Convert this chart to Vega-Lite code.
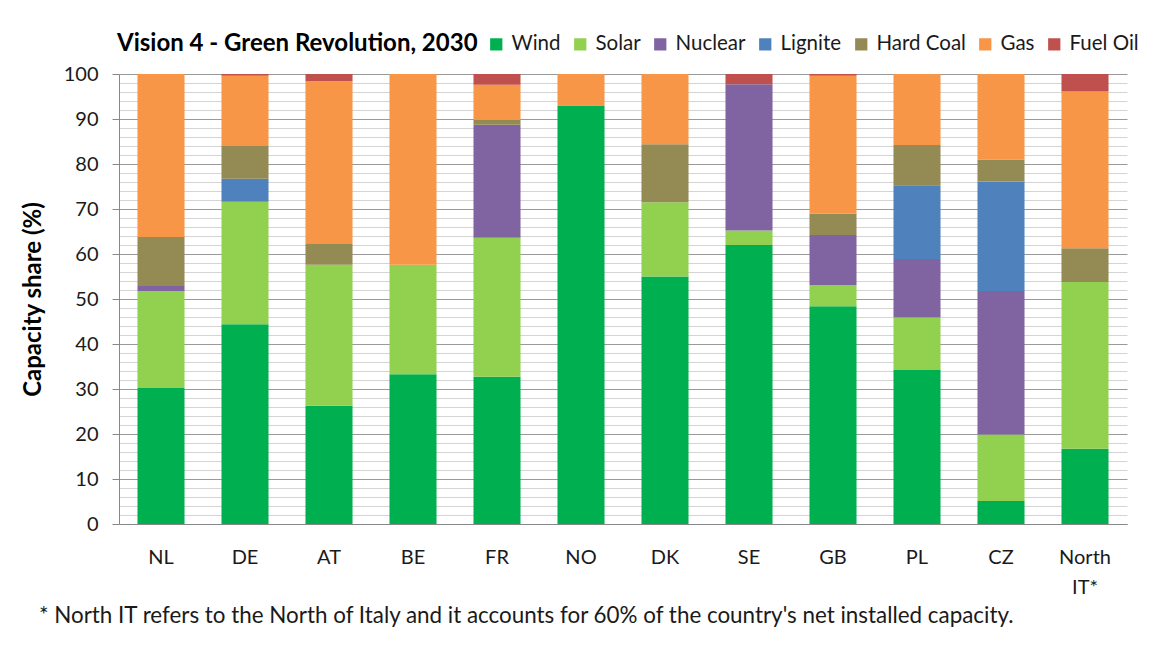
{
  "$schema": "https://vega.github.io/schema/vega-lite/v6.json",
  "width": 1008,
  "height": 450,
  "autosize": {"type": "none"},
  "padding": {"left": 119, "top": 74, "right": 25, "bottom": 123},
  "background": "white",
  "config": {
    "font": "Lato",
    "view": {"stroke": null}
  },
  "title": {
    "text": "* North IT refers to the North of Italy and it accounts for 60% of the country's net installed capacity.",
    "orient": "bottom",
    "anchor": "start",
    "frame": "group",
    "dx": -80,
    "offset": 8,
    "fontSize": 22.4,
    "fontWeight": "normal",
    "color": "#1a1a1a"
  },
  "data": {
    "values": [
      {"country": "NL", "source": "Wind", "share": 30.2},
      {"country": "NL", "source": "Solar", "share": 21.6},
      {"country": "NL", "source": "Nuclear", "share": 1.1},
      {"country": "NL", "source": "Hard Coal", "share": 10.9},
      {"country": "NL", "source": "Gas", "share": 36.2},
      {"country": "DE", "source": "Wind", "share": 44.4},
      {"country": "DE", "source": "Solar", "share": 27.2},
      {"country": "DE", "source": "Lignite", "share": 5.1},
      {"country": "DE", "source": "Hard Coal", "share": 7.3},
      {"country": "DE", "source": "Gas", "share": 15.6},
      {"country": "DE", "source": "Fuel Oil", "share": 0.4},
      {"country": "AT", "source": "Wind", "share": 26.3},
      {"country": "AT", "source": "Solar", "share": 31.3},
      {"country": "AT", "source": "Hard Coal", "share": 4.6},
      {"country": "AT", "source": "Gas", "share": 36.2},
      {"country": "AT", "source": "Fuel Oil", "share": 1.6},
      {"country": "BE", "source": "Wind", "share": 33.3},
      {"country": "BE", "source": "Solar", "share": 24.3},
      {"country": "BE", "source": "Gas", "share": 42.4},
      {"country": "FR", "source": "Wind", "share": 32.7},
      {"country": "FR", "source": "Solar", "share": 30.9},
      {"country": "FR", "source": "Nuclear", "share": 25.1},
      {"country": "FR", "source": "Hard Coal", "share": 1.1},
      {"country": "FR", "source": "Gas", "share": 7.8},
      {"country": "FR", "source": "Fuel Oil", "share": 2.4},
      {"country": "NO", "source": "Wind", "share": 93.0},
      {"country": "NO", "source": "Gas", "share": 7.0},
      {"country": "DK", "source": "Wind", "share": 55.0},
      {"country": "DK", "source": "Solar", "share": 16.5},
      {"country": "DK", "source": "Hard Coal", "share": 12.9},
      {"country": "DK", "source": "Gas", "share": 15.6},
      {"country": "SE", "source": "Wind", "share": 62.0},
      {"country": "SE", "source": "Solar", "share": 3.2},
      {"country": "SE", "source": "Nuclear", "share": 32.5},
      {"country": "SE", "source": "Fuel Oil", "share": 2.3},
      {"country": "GB", "source": "Wind", "share": 48.4},
      {"country": "GB", "source": "Solar", "share": 4.7},
      {"country": "GB", "source": "Nuclear", "share": 11.1},
      {"country": "GB", "source": "Hard Coal", "share": 4.8},
      {"country": "GB", "source": "Gas", "share": 30.6},
      {"country": "GB", "source": "Fuel Oil", "share": 0.4},
      {"country": "PL", "source": "Wind", "share": 34.2},
      {"country": "PL", "source": "Solar", "share": 11.7},
      {"country": "PL", "source": "Nuclear", "share": 13.0},
      {"country": "PL", "source": "Lignite", "share": 16.4},
      {"country": "PL", "source": "Hard Coal", "share": 8.9},
      {"country": "PL", "source": "Gas", "share": 15.8},
      {"country": "CZ", "source": "Wind", "share": 5.1},
      {"country": "CZ", "source": "Solar", "share": 14.8},
      {"country": "CZ", "source": "Nuclear", "share": 31.9},
      {"country": "CZ", "source": "Lignite", "share": 24.3},
      {"country": "CZ", "source": "Hard Coal", "share": 4.9},
      {"country": "CZ", "source": "Gas", "share": 19.0},
      {"country": "North IT*", "source": "Wind", "share": 16.7},
      {"country": "North IT*", "source": "Solar", "share": 37.1},
      {"country": "North IT*", "source": "Hard Coal", "share": 7.5},
      {"country": "North IT*", "source": "Gas", "share": 34.8},
      {"country": "North IT*", "source": "Fuel Oil", "share": 3.9}
    ]
  },
  "mark": {"type": "bar"},
  "encoding": {
    "x": {
      "field": "country",
      "type": "nominal",
      "sort": ["NL", "DE", "AT", "BE", "FR", "NO", "DK", "SE", "GB", "PL", "CZ", "North IT*"],
      "scale": {"paddingInner": 0.44, "paddingOuter": 0.22},
      "axis": {
        "title": null,
        "labelAngle": 0,
        "labelFontSize": 20,
        "labelColor": "#1a1a1a",
        "labelPadding": 23,
        "ticks": false,
        "domainColor": "#888888",
        "labelExpr": "datum.value == 'North IT*' ? ['North', 'IT*'] : datum.label",
        "labelLineHeight": 30,
        "labelBaseline": "top"
      }
    },
    "y": {
      "field": "share",
      "type": "quantitative",
      "stack": "zero",
      "scale": {"domain": [0, 100], "nice": false},
      "axis": {
        "title": "Capacity share (%)",
        "titleFontSize": 24,
        "titleFontWeight": "bold",
        "titleColor": "#000000",
        "titlePadding": 18,
        "values": [0,2,4,6,8,10,12,14,16,18,20,22,24,26,28,30,32,34,36,38,40,42,44,46,48,50,52,54,56,58,60,62,64,66,68,70,72,74,76,78,80,82,84,86,88,90,92,94,96,98,100],
        "labelExpr": "datum.value % 10 == 0 ? datum.label : ''",
        "labelFontSize": 20,
        "labelColor": "#1a1a1a",
        "labelPadding": 14,
        "tickSize": 7,
        "tickColor": {"condition": {"test": "datum.value % 10 == 0", "value": "#888888"}, "value": "transparent"},
        "gridColor": {"condition": {"test": "datum.value % 10 == 0", "value": "#999999"}, "value": "#d4d4d4"},
        "gridWidth": 1,
        "domainColor": "#888888"
      }
    },
    "color": {
      "field": "source",
      "type": "nominal",
      "sort": ["Wind", "Solar", "Nuclear", "Lignite", "Hard Coal", "Gas", "Fuel Oil"],
      "scale": {
        "domain": ["Wind", "Solar", "Nuclear", "Lignite", "Hard Coal", "Gas", "Fuel Oil"],
        "range": ["#00B050", "#92D050", "#8064A2", "#4F81BD", "#948A54", "#F79646", "#C0504D"]
      },
      "legend": {
        "orient": "none",
        "legendX": -2,
        "legendY": -40,
        "direction": "horizontal",
        "title": "Vision 4 - Green Revolution, 2030",
        "titleOrient": "left",
        "titleFontSize": 24,
        "titleFontWeight": "bold",
        "titleColor": "#000000",
        "titleLimit": 800,
        "titlePadding": 8,
        "titleBaseline": "middle",
        "symbolType": "square",
        "symbolSize": 150,
        "symbolStrokeWidth": 0,
        "labelFontSize": 20.5,
        "labelLimit": 300,
        "labelColor": "#1a1a1a",
        "labelOffset": 5,
        "columnPadding": 9
      }
    }
  }
}
